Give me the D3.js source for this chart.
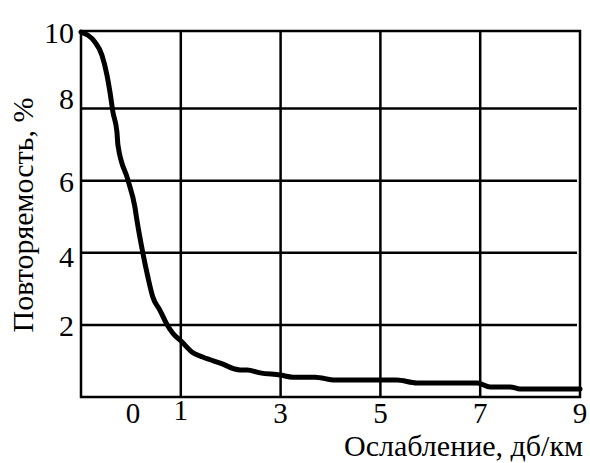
<!DOCTYPE html>
<html lang="ru">
  <head>
    <meta charset="UTF-8" />
    <title>Повторяемость ослабления</title>
    <script src="https://d3js.org/d3.v7.min.js"></script>
    <style>
      body {
        margin: 0;
        padding: 0;
        background: #ffffff;
      }
    </style>
  </head>
  <body>
    <div id="chart"></div>

    <script>
      // -----------------------------
      // data
      // -----------------------------
      const attenuation = [
        -1, -0.72, -0.58, -0.48, -0.42, -0.36, -0.28, -0.26, -0.06, 0.08, 0.12,
        0.24, 0.34, 0.44, 0.58, 0.72, 0.84, 1.02, 1.22, 1.44, 1.79, 2.19, 2.33,
        2.59, 2.99, 3.25, 3.69, 4.09, 5.33, 5.73, 6.94, 7.2, 7.6, 7.8, 9,
      ];
      const recurrence = [
        10.12, 9.84, 9.48, 8.93, 8.46, 7.9, 7.35, 6.99, 6.02, 5.27, 4.91, 3.99,
        3.33, 2.77, 2.41, 2.02, 1.77, 1.53, 1.25, 1.11, 0.94, 0.75, 0.75, 0.67,
        0.61, 0.55, 0.55, 0.47, 0.47, 0.39, 0.39, 0.28, 0.28, 0.22, 0.22,
      ];
      const xTickLabels = [0, 1, 3, 5, 7, 9];
      const xGridValues = [1, 3, 5, 7];
      const yTickLabels = [10, 8, 6, 4, 2];
      const yGridValues = [2, 4, 6, 8];

      const xTitle = "Ослабление, дб/км";
      const yTitle = "Повторяемость, %";

      // -----------------------------
      // svg + scales
      // -----------------------------
      const width = 590,
        height = 463;
      const svg = d3
        .select("#chart")
        .append("svg")
        .attr("width", width)
        .attr("height", height)
        .attr("font-family", "'Liberation Serif'");

      const x = d3.scaleLinear().domain([-1, 9]).range([81, 580]);
      const y = d3.scaleLinear().domain([0, 10.15]).range([397, 31]);

      // grid lines
      svg
        .append("g")
        .selectAll("line")
        .data(xGridValues)
        .join("line")
        .attr("x1", (d) => x(d))
        .attr("x2", (d) => x(d))
        .attr("y1", y.range()[0])
        .attr("y2", y.range()[1])
        .attr("stroke", "#000")
        .attr("stroke-width", 2.5);

      svg
        .append("g")
        .selectAll("line")
        .data(yGridValues)
        .join("line")
        .attr("x1", x.range()[0])
        .attr("x2", x.range()[1] - 3)
        .attr("y1", (d) => y(d))
        .attr("y2", (d) => y(d))
        .attr("stroke", "#000")
        .attr("stroke-width", 2.5);

      // frame
      svg
        .append("rect")
        .attr("x", x.range()[0])
        .attr("y", y.range()[1])
        .attr("width", x.range()[1] - x.range()[0])
        .attr("height", y.range()[0] - y.range()[1])
        .attr("fill", "none")
        .attr("stroke", "#000")
        .attr("stroke-width", 2.5);

      // the curve
      const pts = attenuation.map((a, i) => [a, recurrence[i]]);
      svg
        .append("path")
        .datum(pts)
        .attr("fill", "none")
        .attr("stroke", "#000")
        .attr("stroke-width", 5)
        .attr("stroke-linejoin", "round")
        .attr("stroke-linecap", "round")
        .attr(
          "d",
          d3
            .line()
            .x((d) => x(d[0]))
            .y((d) => y(d[1]))
            .curve(d3.curveMonotoneX)
        );

      // tick labels
      svg
        .append("g")
        .selectAll("text")
        .data(xTickLabels)
        .join("text")
        .attr("x", (d) => x(d) + (d === 0 ? 2 : 0))
        .attr("y", (d) => (d === 1 ? 420 : 423))
        .attr("text-anchor", "middle")
        .attr("font-size", 29)
        .text((d) => d);

      svg
        .append("g")
        .selectAll("text")
        .data(yTickLabels)
        .join("text")
        .attr("x", 74)
        .attr("y", (d) => y(d) + (d === 10 ? -4 : d === 8 ? -10 : d === 4 ? 4 : 1))
        .attr("dy", "0.35em")
        .attr("text-anchor", "end")
        .attr("font-size", 30)
        .text((d) => d);

      // axis titles
      svg
        .append("text")
        .attr("x", 583)
        .attr("y", 456)
        .attr("text-anchor", "end")
        .attr("font-size", 30)
        .text(xTitle);

      svg
        .append("text")
        .attr("transform", "translate(33,215) rotate(-90)")
        .attr("text-anchor", "middle")
        .attr("font-size", 30)
        .text(yTitle);
    </script>
  </body>
</html>
